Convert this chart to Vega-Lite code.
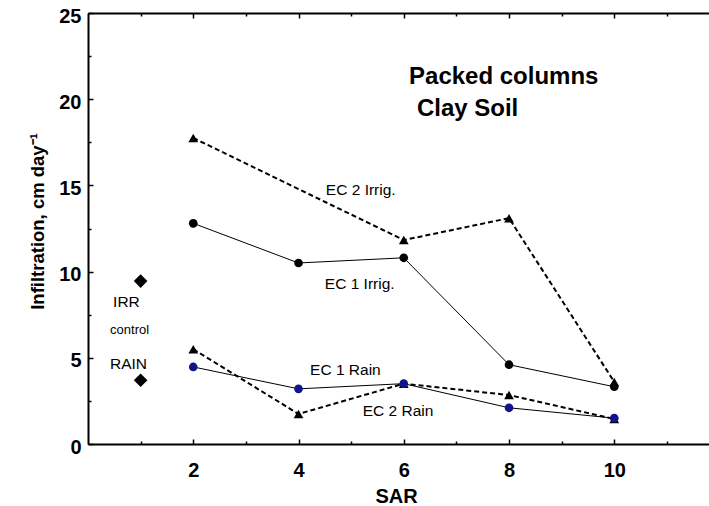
{
  "$schema": "https://vega.github.io/schema/vega-lite/v6.json",
  "width": 621,
  "height": 431,
  "autosize": {"type": "none"},
  "padding": {"left": 88, "top": 13, "right": 0, "bottom": 62},
  "background": "white",
  "config": {
    "view": {"stroke": null},
    "font": "Liberation Sans",
    "axis": {"grid": false, "domainColor": "black", "tickColor": "black", "labelColor": "black", "titleColor": "black", "labelFont": "Liberation Sans", "titleFont": "Liberation Sans"}
  },
  "datasets": {
    "series": [
      {"series": "EC 2 Irrig.", "SAR": 2, "inf": 17.75},
      {"series": "EC 2 Irrig.", "SAR": 6, "inf": 11.83},
      {"series": "EC 2 Irrig.", "SAR": 8, "inf": 13.1},
      {"series": "EC 2 Irrig.", "SAR": 10, "inf": 3.6},
      {"series": "EC 1 Irrig.", "SAR": 2, "inf": 12.8},
      {"series": "EC 1 Irrig.", "SAR": 4, "inf": 10.5},
      {"series": "EC 1 Irrig.", "SAR": 6, "inf": 10.8},
      {"series": "EC 1 Irrig.", "SAR": 8, "inf": 4.6},
      {"series": "EC 1 Irrig.", "SAR": 10, "inf": 3.32},
      {"series": "EC 1 Rain", "SAR": 2, "inf": 4.47},
      {"series": "EC 1 Rain", "SAR": 4, "inf": 3.2},
      {"series": "EC 1 Rain", "SAR": 6, "inf": 3.5},
      {"series": "EC 1 Rain", "SAR": 8, "inf": 2.1},
      {"series": "EC 1 Rain", "SAR": 10, "inf": 1.5},
      {"series": "EC 2 Rain", "SAR": 2, "inf": 5.5},
      {"series": "EC 2 Rain", "SAR": 4, "inf": 1.74},
      {"series": "EC 2 Rain", "SAR": 6, "inf": 3.5},
      {"series": "EC 2 Rain", "SAR": 8, "inf": 2.84},
      {"series": "EC 2 Rain", "SAR": 10, "inf": 1.45}
    ],
    "control": [
      {"SAR": 1, "inf": 9.45},
      {"SAR": 1, "inf": 3.7}
    ],
    "curveLabels": [
      {"SAR": 4.52, "inf": 14.44, "label": "EC 2 Irrig."},
      {"SAR": 4.5, "inf": 8.99, "label": "EC 1 Irrig."},
      {"SAR": 4.22, "inf": 4.0, "label": "EC 1 Rain"},
      {"SAR": 5.22, "inf": 1.64, "label": "EC 2 Rain"}
    ],
    "controlLabels": [
      {"SAR": 0.73, "inf": 7.96, "label": "IRR"},
      {"SAR": 0.77, "inf": 4.33, "label": "RAIN"}
    ],
    "controlNote": [
      {"SAR": 0.79, "inf": 6.38, "label": "control"}
    ],
    "heading": [
      {"SAR": 6.1, "inf": 20.88, "label": "Packed columns"},
      {"SAR": 6.25, "inf": 19.03, "label": "Clay Soil"}
    ]
  },
  "resolve": {"axis": {"x": "independent"}},
  "layer": [
    {
      "data": {"name": "series"},
      "transform": [{"filter": "datum.series == 'EC 2 Irrig.' || datum.series == 'EC 2 Rain'"}],
      "mark": {"type": "line", "color": "black", "strokeWidth": 2, "strokeDash": [5, 3]},
      "encoding": {
        "x": {
          "field": "SAR", "type": "quantitative",
          "scale": {"domain": [0, 11.8], "nice": false, "zero": false},
          "axis": {
            "orient": "bottom",
            "values": [1, 2, 3, 4, 5, 6, 7, 8, 9, 10, 11],
            "labelExpr": "datum.value % 2 == 0 ? datum.label : ''",
            "labelFlush": false,
            "labelOverlap": false,
            "tickSize": {"condition": {"test": "datum.value % 2 == 1", "value": -3}, "value": -5},
            "tickWidth": 1.5,
            "domainWidth": 2,
            "labelFontSize": 20,
            "labelFontWeight": "bold",
            "labelPadding": 21,
            "title": "SAR",
            "titleFontSize": 20,
            "titleFontWeight": "bold",
            "titleBaseline": "alphabetic",
            "titleY": 58,
            "titleX": 308
          }
        },
        "y": {
          "field": "inf", "type": "quantitative",
          "scale": {"domain": [0, 25], "nice": false},
          "axis": {
            "orient": "left",
            "values": [0, 2.5, 5, 7.5, 10, 12.5, 15, 17.5, 20, 22.5, 25],
            "labelExpr": "datum.value % 5 == 0 ? datum.label : ''",
            "labelOverlap": false,
            "labelFlush": false,
            "tickSize": {"condition": {"test": "datum.value % 5 != 0", "value": -3}, "value": -5},
            "tickWidth": 1.5,
            "domainWidth": 2,
            "labelFontSize": 20,
            "labelFontWeight": "bold",
            "labelPadding": 12,
            "labelOffset": 3,
            "title": "Infiltration, cm day⁻¹",
            "titleFontSize": 18.5,
            "titleFontWeight": "bold",
            "titleAngle": 270,
            "titleBaseline": "alphabetic",
            "titleX": -45,
            "titleY": 208
          }
        },
        "detail": {"field": "series", "type": "nominal"}
      }
    },
    {
      "data": {"name": "series"},
      "transform": [{"filter": "datum.series == 'EC 1 Irrig.' || datum.series == 'EC 1 Rain'"}],
      "mark": {"type": "line", "color": "black", "strokeWidth": 1},
      "encoding": {
        "x": {"field": "SAR", "type": "quantitative", "axis": null},
        "y": {"field": "inf", "type": "quantitative"},
        "detail": {"field": "series", "type": "nominal"}
      }
    },
    {
      "data": {"name": "series"},
      "transform": [{"filter": "datum.series == 'EC 2 Irrig.' || datum.series == 'EC 2 Rain'"}],
      "mark": {"type": "point", "shape": "triangle-up", "filled": true, "opacity": 1, "color": "black", "size": 95},
      "encoding": {
        "x": {"field": "SAR", "type": "quantitative", "axis": null},
        "y": {"field": "inf", "type": "quantitative"}
      }
    },
    {
      "data": {"name": "series"},
      "transform": [{"filter": "datum.series == 'EC 1 Irrig.' || datum.series == 'EC 1 Rain'"}],
      "mark": {"type": "point", "shape": "circle", "filled": true, "opacity": 1, "size": 75},
      "encoding": {
        "x": {"field": "SAR", "type": "quantitative", "axis": null},
        "y": {"field": "inf", "type": "quantitative"},
        "color": {
          "field": "series", "type": "nominal",
          "scale": {"domain": ["EC 1 Irrig.", "EC 1 Rain"], "range": ["#000000", "#14148a"]},
          "legend": null
        }
      }
    },
    {
      "data": {"name": "control"},
      "mark": {"type": "point", "shape": "diamond", "filled": true, "opacity": 1, "color": "black", "size": 185},
      "encoding": {
        "x": {
          "field": "SAR", "type": "quantitative",
          "axis": {
            "orient": "top",
            "values": [1, 2, 3, 4, 5, 6, 7, 8, 9, 10, 11],
            "labels": false,
            "tickSize": {"condition": {"test": "datum.value % 2 == 1", "value": -3}, "value": -5},
            "tickWidth": 1.5,
            "domainWidth": 2,
            "title": null
          }
        },
        "y": {"field": "inf", "type": "quantitative"}
      }
    },
    {
      "data": {"name": "curveLabels"},
      "mark": {"type": "text", "align": "left", "baseline": "alphabetic", "fontSize": 15.5, "font": "Liberation Sans", "color": "black"},
      "encoding": {
        "x": {"field": "SAR", "type": "quantitative", "axis": null},
        "y": {"field": "inf", "type": "quantitative"},
        "text": {"field": "label"}
      }
    },
    {
      "data": {"name": "controlLabels"},
      "mark": {"type": "text", "align": "center", "baseline": "alphabetic", "fontSize": 15.5, "font": "Liberation Sans", "color": "black"},
      "encoding": {
        "x": {"field": "SAR", "type": "quantitative", "axis": null},
        "y": {"field": "inf", "type": "quantitative"},
        "text": {"field": "label"}
      }
    },
    {
      "data": {"name": "controlNote"},
      "mark": {"type": "text", "align": "center", "baseline": "alphabetic", "fontSize": 13, "font": "Liberation Sans", "color": "black"},
      "encoding": {
        "x": {"field": "SAR", "type": "quantitative", "axis": null},
        "y": {"field": "inf", "type": "quantitative"},
        "text": {"field": "label"}
      }
    },
    {
      "data": {"name": "heading"},
      "mark": {"type": "text", "align": "left", "baseline": "alphabetic", "fontSize": 24, "fontWeight": "bold", "font": "Liberation Sans", "color": "black"},
      "encoding": {
        "x": {"field": "SAR", "type": "quantitative", "axis": null},
        "y": {"field": "inf", "type": "quantitative"},
        "text": {"field": "label"}
      }
    }
  ]
}
